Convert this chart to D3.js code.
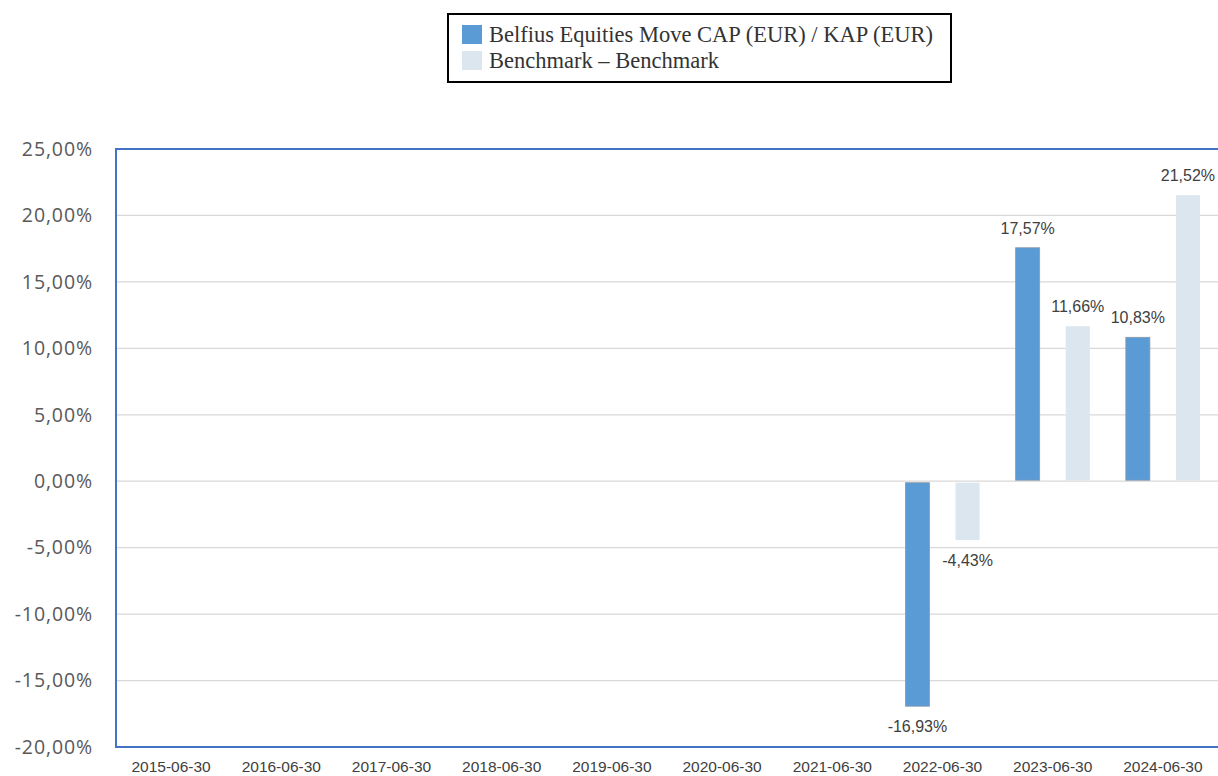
<!DOCTYPE html>
<html>
<head>
<meta charset="utf-8">
<script src="https://cdn.jsdelivr.net/npm/d3@7"></script>
<style>
  body { margin: 0; background: #fff; }
  svg { display: block; }
</style>
</head>
<body>
<svg width="1218" height="776"></svg>
<script>
// chart values
const years = ["2015-06-30", "2016-06-30", "2017-06-30", "2018-06-30", "2019-06-30",
               "2020-06-30", "2021-06-30", "2022-06-30", "2023-06-30", "2024-06-30"];
const fundValues  = [null, null, null, null, null, null, null, -16.93, 17.57, 10.83];
const benchValues = [null, null, null, null, null, null, null, -4.43, 11.66, 21.52];
const seriesNames = ["Belfius Equities Move CAP (EUR) / KAP (EUR)", "Benchmark \u2013 Benchmark"];
const seriesColors = ["#5b9bd5", "#dce6ee"];
const yTicks = [-20, -15, -10, -5, 0, 5, 10, 15, 20, 25];

const svg = d3.select("svg");
const margin = {top: 149, left: 116, bottom: 29, right: 0};
const width = 1218, height = 776;

const fmt = v => v.toFixed(2).replace(".", ",") + "%";

const x0 = d3.scaleBand()
    .domain(years)
    .range([margin.left, width - margin.right])
    .paddingInner(0.327)
    .paddingOuter(0.1635);

const x1 = d3.scaleBand()
    .domain([0, 1])
    .range([0, x0.bandwidth()])
    .paddingInner(0.52)
    .paddingOuter(0);

const y = d3.scaleLinear()
    .domain([-20, 25])
    .range([height - margin.bottom, margin.top]);

// gridlines
svg.append("g")
  .selectAll("line")
  .data(yTicks)
  .join("line")
    .attr("x1", margin.left)
    .attr("x2", width)
    .attr("y1", d => y(d))
    .attr("y2", d => y(d))
    .attr("stroke", "#d9d9d9")
    .attr("stroke-width", 1.3);

// y tick labels
svg.append("g")
  .selectAll("text")
  .data(yTicks)
  .join("text")
    .attr("x", 93)
    .attr("y", d => y(d))
    .attr("dy", "0.35em")
    .attr("text-anchor", "end")
    .attr("font-family", "'Open Sans', sans-serif")
    .attr("font-size", 19.5)
    .attr("letter-spacing", 0.9)
    .attr("fill", "#595959")
    .text(d => d.toFixed(2).replace(".", ",") + "%");

// x tick labels
svg.append("g")
  .selectAll("text")
  .data(years)
  .join("text")
    .attr("x", d => x0(d) + x0.bandwidth() / 2)
    .attr("y", 772)
    .attr("text-anchor", "middle")
    .attr("font-family", "'Liberation Sans', Arial, sans-serif")
    .attr("font-size", 15.5)
    .attr("fill", "#404040")
    .text(d => d);

// bars
const rows = [];
years.forEach((yr, i) => {
  [fundValues[i], benchValues[i]].forEach((v, s) => {
    if (v !== null) rows.push({year: yr, s: s, v: v});
  });
});

svg.append("g")
  .selectAll("rect")
  .data(rows)
  .join("rect")
    .attr("x", d => x0(d.year) + x1(d.s))
    .attr("width", x1.bandwidth())
    .attr("y", d => Math.min(y(d.v), y(0)) + (d.v < 0 ? 1.5 : 0))
    .attr("height", d => Math.abs(y(d.v) - y(0)) - (d.v < 0 ? 1.5 : 1))
    .attr("fill", d => seriesColors[d.s])
    .attr("stroke", d => d.s === 0 ? "#8c9aa8" : "none")
    .attr("stroke-width", 0.8);

// value labels
svg.append("g")
  .selectAll("text")
  .data(rows)
  .join("text")
    .attr("x", d => x0(d.year) + x1(d.s) + x1.bandwidth() / 2)
    .attr("y", d => d.v >= 0 ? y(d.v) - 14 : y(d.v) + 26)
    .attr("text-anchor", "middle")
    .attr("font-family", "'Liberation Sans', Arial, sans-serif")
    .attr("font-size", 16)
    .attr("fill", "#404040")
    .text(d => fmt(d.v));

// plot border (top, left, bottom)
svg.append("path")
    .attr("d", `M${width},${margin.top}H${margin.left}V${height - margin.bottom}H${width}`)
    .attr("fill", "none")
    .attr("stroke", "#4472c4")
    .attr("stroke-width", 2);

// legend
const legend = svg.append("g");
legend.append("rect")
    .attr("x", 448).attr("y", 14)
    .attr("width", 503).attr("height", 68)
    .attr("fill", "#fff")
    .attr("stroke", "#000")
    .attr("stroke-width", 2);

const items = legend.selectAll("g")
  .data(seriesNames)
  .join("g")
    .attr("transform", (d, i) => `translate(462, ${25 + i * 26})`);

items.append("rect")
    .attr("width", 20).attr("height", 19)
    .attr("fill", (d, i) => seriesColors[i]);

items.append("text")
    .attr("x", 27)
    .attr("y", 17)
    .attr("font-family", "'Liberation Serif', 'Times New Roman', serif")
    .attr("font-size", 22.5)
    .attr("fill", "#333")
    .text(d => d);
</script>
</body>
</html>
